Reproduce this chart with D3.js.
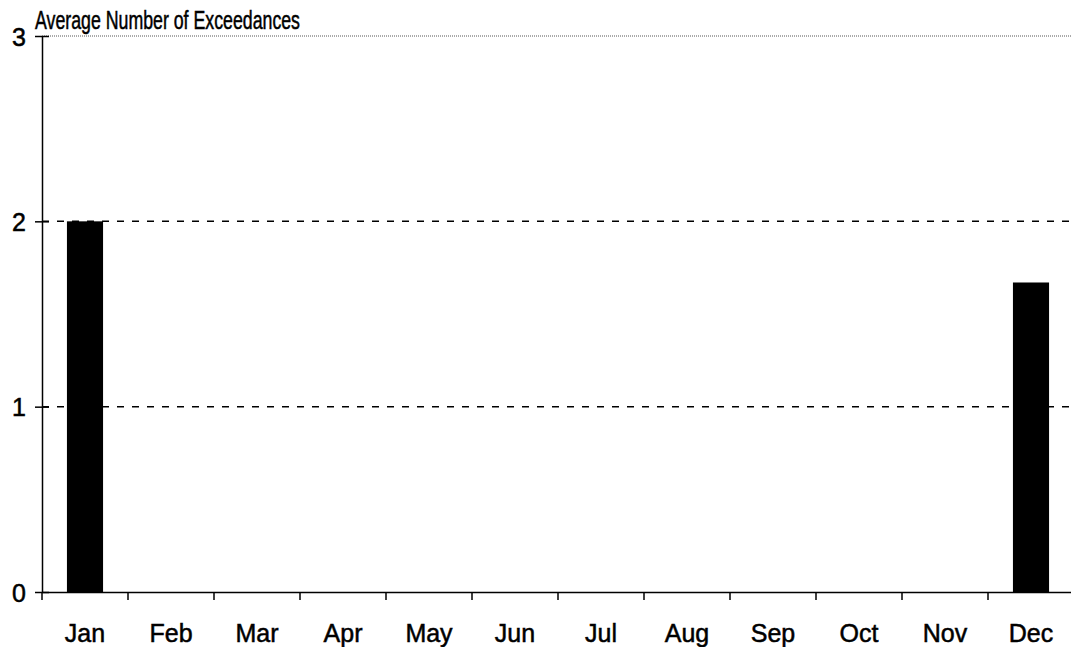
<!DOCTYPE html>
<html>
<head>
<meta charset="utf-8">
<script src="https://cdn.jsdelivr.net/npm/d3@7"></script>
<style>
  body { margin: 0; background: #fff; }
  svg { display: block; }
  text { font-family: Arial, "Liberation Sans", sans-serif; fill: #000; stroke: #000; stroke-width: 0.5px; }
</style>
</head>
<body>
<svg width="1071" height="647"></svg>
<script>
var months = ["Jan", "Feb", "Mar", "Apr", "May", "Jun", "Jul", "Aug", "Sep", "Oct", "Nov", "Dec"];
var exceedances = [2, 0, 0, 0, 0, 0, 0, 0, 0, 0, 0, 1.67];
var yTicks = [0, 1, 2, 3];

var svg = d3.select("svg");
var mLeft = 42, mRight = 1074, mTop = 36, mBottom = 592;

var x = d3.scaleBand().domain(months).range([mLeft, mRight]).paddingInner(0).paddingOuter(0);
var y = d3.scaleLinear().domain([0, 3]).range([mBottom, mTop]);
var barW = x.bandwidth() * 0.42;

// top border (dotted)
svg.append("line")
    .attr("x1", mLeft).attr("x2", 1071)
    .attr("y1", y(3)).attr("y2", y(3))
    .attr("stroke", "#555").attr("stroke-width", 1)
    .attr("stroke-dasharray", "1,1");

// dashed gridlines
svg.selectAll(".grid")
    .data([1, 2])
    .enter().append("line")
    .attr("class", "grid")
    .attr("x1", mLeft).attr("x2", 1071)
    .attr("y1", function(d) { return y(d); })
    .attr("y2", function(d) { return y(d); })
    .attr("stroke", "#000").attr("stroke-width", 1.5)
    .attr("stroke-dasharray", "7,8");

// bars
svg.selectAll(".bar")
    .data(exceedances)
    .enter().append("rect")
    .attr("class", "bar")
    .attr("x", function(d, i) { return x(months[i]) + (x.bandwidth() - barW) / 2; })
    .attr("y", function(d) { return y(d); })
    .attr("width", barW)
    .attr("height", function(d) { return mBottom - y(d); })
    .attr("fill", "#000");

// y axis
var yAxis = d3.axisLeft(y).tickValues(yTicks).tickFormat(d3.format("d")).tickSizeInner(7).tickSizeOuter(0);
var gy = svg.append("g").attr("transform", "translate(" + mLeft + ",0)").call(yAxis);
gy.select(".domain").attr("stroke", "#000").attr("stroke-width", 1.5);
gy.selectAll(".tick line").attr("stroke", "#000").attr("stroke-width", 1.5).attr("x2", 7).attr("x1", -7);
gy.selectAll(".tick text")
    .attr("x", -16).attr("dy", "0.36em")
    .style("font-size", "25px").style("font-family", "Arial, 'Liberation Sans', sans-serif");

// x axis
var xAxis = d3.axisBottom(x).tickSize(0).tickSizeOuter(0);
var gx = svg.append("g").attr("transform", "translate(0," + mBottom + ")").call(xAxis);
gx.select(".domain").attr("stroke", "#000").attr("stroke-width", 1.5);
gx.selectAll(".tick text")
    .attr("y", 50).attr("dy", 0)
    .style("font-size", "25px").style("font-family", "Arial, 'Liberation Sans', sans-serif");

// x tick marks at category boundaries
svg.selectAll(".xtick")
    .data(months)
    .enter().append("line")
    .attr("class", "xtick")
    .attr("x1", function(d) { return x(d); })
    .attr("x2", function(d) { return x(d); })
    .attr("y1", mBottom).attr("y2", mBottom + 8)
    .attr("stroke", "#000").attr("stroke-width", 1.5);

// title
svg.append("text")
    .attr("x", 35).attr("y", 29)
    .attr("textLength", 265)
    .attr("lengthAdjust", "spacingAndGlyphs")
    .style("font-size", "25px")
    .text("Average Number of Exceedances");
</script>
</body>
</html>
